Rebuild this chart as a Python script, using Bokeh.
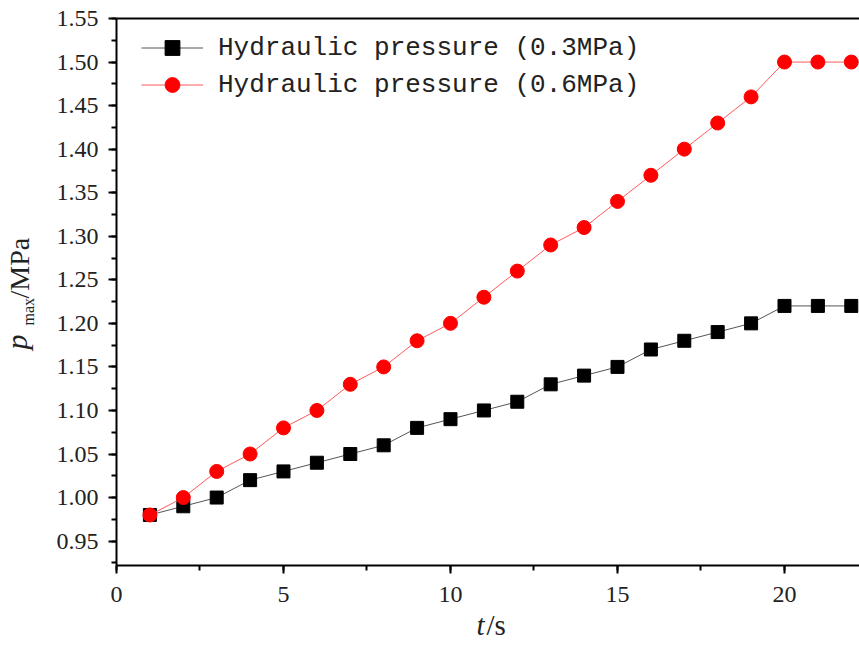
import math
from bokeh.plotting import figure
from bokeh.models import (Range1d, SingleIntervalTicker, FixedTicker, Label, Legend, LegendItem,
                          NumeralTickFormatter, LinearAxis)
from bokeh.embed import file_html
from bokeh.resources import INLINE

time_s = [1, 2, 3, 4, 5, 6, 7, 8, 9, 10, 11, 12, 13, 14, 15, 16, 17, 18, 19, 20, 21, 22]
p_03 = [0.98, 0.99, 1.00, 1.02, 1.03, 1.04, 1.05, 1.06, 1.08, 1.09, 1.10, 1.11,
        1.13, 1.14, 1.15, 1.17, 1.18, 1.19, 1.20, 1.22, 1.22, 1.22]
p_06 = [0.98, 1.00, 1.03, 1.05, 1.08, 1.10, 1.13, 1.15, 1.18, 1.20, 1.23, 1.26,
        1.29, 1.31, 1.34, 1.37, 1.40, 1.43, 1.46, 1.50, 1.50, 1.50]
label_03 = "Hydraulic pressure (0.3MPa)"
label_06 = "Hydraulic pressure (0.6MPa)"

X0, X1 = 0.0, 22.246      # axis extent (x)
Y0, Y1 = 0.922, 1.55      # axis extent (y)
W, H = 859, 648
LEFT, TOP, BOTTOM = 116, 18, 565
sx = (W - LEFT) / (X1 - X0)
sy = (BOTTOM - TOP) / (Y1 - Y0)

p = figure(width=W, height=H, output_backend="svg", toolbar_location=None,
           x_axis_location=None, y_axis_location=None,
           x_range=Range1d(X0 - LEFT / sx, X1),
           y_range=Range1d(Y0 - (H - BOTTOM) / sy, Y1 + TOP / sy),
           min_border=0)
p.outline_line_color = None
p.grid.visible = False
p.background_fill_color = "white"
p.border_fill_color = "white"

xaxis = LinearAxis(fixed_location=Y0, bounds=(X0, X1),
                   ticker=SingleIntervalTicker(interval=5, num_minor_ticks=2))
yaxis = LinearAxis(fixed_location=X0, bounds=(Y0, Y1),
                   ticker=SingleIntervalTicker(interval=0.05, num_minor_ticks=2),
                   formatter=NumeralTickFormatter(format="0.00"))
topaxis = LinearAxis(fixed_location=Y1, bounds=(X0, X1),
                     ticker=FixedTicker(ticks=[], minor_ticks=[]),
                     major_tick_out=0, minor_tick_out=0, major_tick_in=0, minor_tick_in=0,
                     axis_line_width=2)
for ax in (xaxis, yaxis):
    ax.axis_line_width = 2
    ax.major_tick_line_width = 2
    ax.minor_tick_line_width = 2
    ax.major_tick_in = 0
    ax.major_tick_out = 8
    ax.minor_tick_in = 0
    ax.minor_tick_out = 5
    ax.major_label_text_font = "Liberation Serif"
    ax.major_label_text_font_size = "24px"
    ax.major_label_text_color = "#222222"
xaxis.major_label_standoff = 13
yaxis.major_label_standoff = 10
p.add_layout(xaxis, "below")
p.add_layout(yaxis, "left")
p.add_layout(topaxis, "above")

l1 = p.line(time_s, p_03, line_color="#555555", line_width=1)
s1 = p.scatter(time_s, p_03, marker="square", size=13, fill_color="black", line_color="black")
l2 = p.line(time_s, p_06, line_color="#ff5a5a", line_width=1)
s2 = p.scatter(time_s, p_06, marker="circle", size=14, fill_color="#ff0000", line_color="#ff0000")

legend = Legend(items=[LegendItem(label=label_03, renderers=[l1, s1]),
                       LegendItem(label=label_06, renderers=[l2, s2])],
                location=(141, H - 29 - 74), border_line_color=None, background_fill_alpha=0,
                padding=0, margin=0, spacing=0, glyph_width=62, glyph_height=37,
                label_height=37, label_standoff=15,
                label_text_font="Liberation Mono", label_text_font_size="26px",
                label_text_color="#222222")
p.add_layout(legend)


def dx(px):
    return X0 + (px - LEFT) / sx


def dy(py):
    return Y1 - (py - TOP) / sy


font = "Liberation Serif"
ink = "#222222"
p.add_layout(Label(x=dx(476), y=dy(640), text="t", text_font=font, text_font_style="italic",
                   text_font_size="29px", text_color=ink))
p.add_layout(Label(x=dx(486), y=dy(640), text="/s", text_font=font,
                   text_font_size="29px", text_color=ink))
p.add_layout(Label(x=dx(32), y=dy(349), text="p", text_font=font, text_font_style="italic",
                   text_font_size="30px", angle=math.pi / 2, text_color=ink))
p.add_layout(Label(x=dx(36), y=dy(325), text="max", text_font=font,
                   text_font_size="16px", angle=math.pi / 2, text_color=ink))
p.add_layout(Label(x=dx(34), y=dy(298), text="/MPa", text_font=font,
                   text_font_size="28px", angle=math.pi / 2, text_color=ink))

open("out.html", "w").write(file_html(p, INLINE))
